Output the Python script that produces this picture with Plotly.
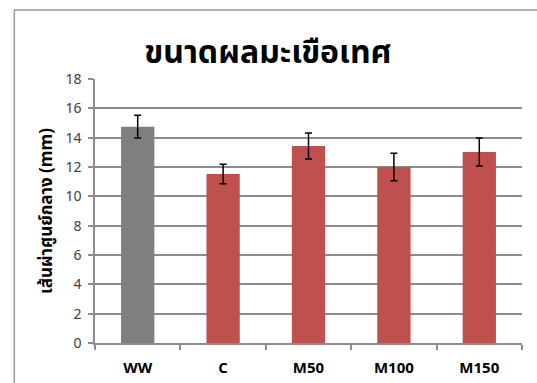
import plotly.graph_objects as go

# Fruit size (diameter) per treatment, mean with error
categories = ["WW", "C", "M50", "M100", "M150"]
diameter_mm = [14.75, 11.52, 13.43, 12.0, 13.02]
error_mm = [0.77, 0.66, 0.89, 0.93, 0.95]
bar_colors = ["#7f7f7f", "#c0504d", "#c0504d", "#c0504d", "#c0504d"]
y_ticks = [0, 2, 4, 6, 8, 10, 12, 14, 16, 18]

title_text = "ขนาดผลมะเขือเทศ"
y_title = "เส้นผ่าศูนย์กลาง (mm)"

W, H = 537, 383
left, right, top, bottom = 94.7, 15.3, 79, 40.3
plot_w = W - left - right
plot_h = H - top - bottom

fig = go.Figure(
    go.Bar(
        x=categories,
        y=diameter_mm,
        marker=dict(color=bar_colors, line=dict(width=0)),
        width=0.39,
        error_y=dict(
            type="data",
            array=error_mm,
            color="#000000",
            thickness=1.5,
            width=3.5,
        ),
    )
)

font_family = "Noto Sans Thai, Tahoma, Calibri, Open Sans, sans-serif"

# outer chart frame, extending off the right and bottom edges
fig.add_shape(
    type="rect",
    xref="paper",
    yref="paper",
    x0=(14 - left) / plot_w,
    x1=(W + 10 - left) / plot_w,
    y0=-(bottom + 10) / plot_h,
    y1=(H - 10 - bottom) / plot_h,
    line=dict(color="#9a9a9a", width=1.5),
    fillcolor="rgba(0,0,0,0)",
    layer="below",
)

fig.update_layout(
    width=W,
    height=H,
    margin=dict(l=left, r=right, t=top, b=bottom, pad=0),
    paper_bgcolor="white",
    plot_bgcolor="white",
    showlegend=False,
    title=dict(
        text="<b>" + title_text + "</b>",
        x=268 / W,
        xanchor="center",
        y=1 - 52 / H,
        yanchor="middle",
        font=dict(size=32, color="#000000", family=font_family),
        automargin=False,
    ),
    font=dict(family=font_family, color="#404040"),
)

fig.update_xaxes(
    automargin=False,
    range=[-0.5, 4.5],
    tickvals=list(range(len(categories))),
    ticktext=["<b>" + c + "</b>" for c in categories],
    showline=True,
    linecolor="#8c8c8c",
    linewidth=1.5,
    ticks="outside",
    tickson="boundaries",
    ticklen=5,
    tickcolor="#8c8c8c",
    tickwidth=1.5,
    showgrid=False,
    tickfont=dict(size=15, color="#000000", family=font_family),
    ticklabelstandoff=10,
    fixedrange=True,
)

fig.update_yaxes(
    automargin=False,
    range=[0, 18],
    tickvals=y_ticks,
    showline=True,
    linecolor="#8c8c8c",
    linewidth=1.5,
    ticks="outside",
    ticklen=5,
    tickcolor="#8c8c8c",
    tickwidth=1.5,
    showgrid=True,
    gridcolor="#8c8c8c",
    gridwidth=1.5,
    zeroline=False,
    tickfont=dict(size=14, color="#404040", family=font_family),
    ticklabelstandoff=4,
    title=dict(
        text="<b>" + y_title + "</b>",
        font=dict(size=17, color="#000000", family=font_family),
        standoff=8,
    ),
    fixedrange=True,
)

fig.write_html("out.html")
